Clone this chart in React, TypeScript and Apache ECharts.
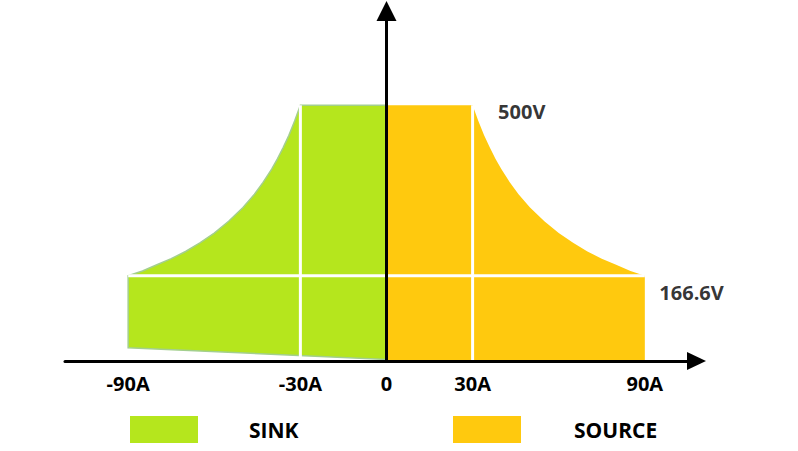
import { useEffect, useRef } from "react";
import * as echarts from "echarts";

const GREEN = "#b5e61d";
const GOLD = "#ffc90e";
const FONT = "'Open Sans', 'DejaVu Sans', sans-serif";

// current ticks under the x axis
const currentTicks = [-90, -30, 0, 30, 90];
const currentTickLabels = ["-90A", "-30A", "0", "30A", "90A"];

// sink region (A, V): constant power edge, flat top, sloped base
const sinkCurve = [
  [-90, 166.6], [-85, 176], [-80, 188], [-75, 200], [-70, 214], [-65, 231],
  [-60, 250], [-55, 273], [-50, 300], [-46, 326], [-43, 349], [-40, 375],
  [-38, 395], [-36, 417], [-34, 441], [-32, 469], [-30, 500],
];
const sinkTop = [[0, 500]];
const sinkBase = [[0, 3], [-90, 26]];

// source region (A, V)
const sourceTop = [[0, 500]];
const sourceCurve = [
  [30, 500], [32, 469], [34, 441], [36, 417], [38, 395], [40, 375],
  [43, 349], [46, 326], [50, 300], [55, 273], [60, 250], [65, 231],
  [70, 214], [75, 200], [80, 188], [85, 176], [90, 166.6],
];
const sourceBase = [[90, 0], [0, 0]];

// white guide lines
const currentGuides = [-30, 30];
const guideTopVoltage = 500;
const powerLimitVoltage = 166.6;
const powerLimitSpan = [-90, 90];

// voltage annotations
const voltMarks = [
  { value: [30, 500], name: "500V" },
  { value: [90, 166.6], name: "166.6V" },
];
const voltOffsets = [[25, 6], [14, 17]];

function polygonSeries(name: string, points: number[][], color: string, stroke?: string) {
  return {
    type: "custom",
    name,
    coordinateSystem: "cartesian2d",
    silent: true,
    z: 2,
    itemStyle: { color },
    data: points,
    renderItem: (params: any, api: any) => {
      if (params.dataIndex !== 0) return null;
      const pts = points.map((p) => api.coord(p));
      return {
        type: "polygon",
        shape: { points: pts },
        style: stroke
          ? { fill: color, stroke, lineWidth: 1.5 }
          : { fill: color },
      };
    },
  };
}

export default function App() {
  const ref = useRef<HTMLDivElement>(null);

  useEffect(() => {
    if (!ref.current) return;
    const chart = echarts.init(ref.current, undefined, { renderer: "svg" });

    const guideSeries = currentGuides.map((a) => ({
      type: "line",
      silent: true,
      z: 3,
      showSymbol: false,
      data: [[a, 0], [a, guideTopVoltage]],
      lineStyle: { color: "#ffffff", width: 3 },
    }));

    const legendText = (pad: number) => ({
      color: "#000",
      fontFamily: FONT,
      fontWeight: "bold",
      fontSize: 21,
      padding: [6, 0, 0, pad],
    });

    const option: any = {
      animation: false,
      backgroundColor: "#ffffff",
      grid: { left: 65, right: 101.5, top: 11, bottom: 90, outerBoundsMode: "none" },
      legend: [
        {
          data: [{ name: "SINK", icon: "rect" }],
          left: 130,
          top: 416,
          padding: 0,
          itemWidth: 68,
          itemHeight: 27,
          selectedMode: false,
          textStyle: legendText(46),
        },
        {
          data: [{ name: "SOURCE", icon: "rect" }],
          left: 453,
          top: 416,
          padding: 0,
          itemWidth: 68,
          itemHeight: 27,
          selectedMode: false,
          textStyle: legendText(48),
        },
      ],
      xAxis: {
        type: "value",
        min: -112,
        max: 108,
        z: 10,
        axisLine: {
          onZero: true,
          lineStyle: { color: "#000", width: 3 },
          symbol: ["none", "triangle"],
          symbolSize: [18, 19],
        },
        axisTick: { show: false },
        splitLine: { show: false },
        axisLabel: {
          customValues: currentTicks,
          formatter: (v: number) => {
            const i = currentTicks.indexOf(v);
            return i >= 0 ? currentTickLabels[i] : "";
          },
          margin: 12,
          color: "#000",
          fontFamily: FONT,
          fontWeight: "bold",
          fontSize: 20,
        },
      },
      yAxis: {
        type: "value",
        min: 0,
        max: 684,
        z: 10,
        axisLine: {
          onZero: true,
          lineStyle: { color: "#000", width: 3 },
          symbol: ["none", "triangle"],
          symbolSize: [20, 20],
        },
        axisTick: { show: false },
        axisLabel: { show: false },
        splitLine: { show: false },
      },
      series: [
        polygonSeries("SINK", [...sinkCurve, ...sinkTop, ...sinkBase], GREEN, "#a3cf8e"),
        polygonSeries("SOURCE", [...sourceTop, ...sourceCurve, ...sourceBase], GOLD),
        ...guideSeries,
        {
          type: "line",
          silent: true,
          z: 3,
          showSymbol: false,
          data: powerLimitSpan.map((a) => [a, powerLimitVoltage]),
          lineStyle: { color: "#ffffff", width: 3 },
        },
        {
          type: "scatter",
          silent: true,
          z: 4,
          symbolSize: 1,
          itemStyle: { color: "rgba(0,0,0,0)" },
          data: voltMarks.map((m, i) => ({
            value: m.value,
            name: m.name,
            label: {
              show: true,
              position: "right",
              distance: 0,
              offset: voltOffsets[i],
              formatter: "{b}",
              color: "#000",
              fontFamily: FONT,
              fontWeight: "bold",
              fontSize: 20,
            },
          })),
        },
      ],
    };

    chart.setOption(option);
    return () => chart.dispose();
  }, []);

  return (
    <div
      ref={ref}
      style={{ position: "fixed", left: 0, top: 0, width: 798, height: 451 }}
    />
  );
}
